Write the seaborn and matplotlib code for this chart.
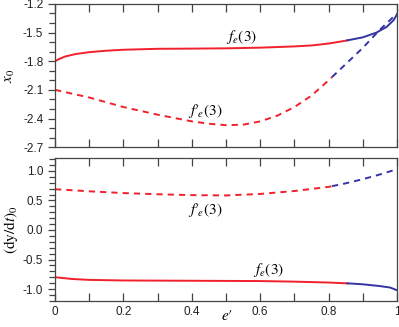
import numpy as np
import pandas as pd
import matplotlib
matplotlib.use('Agg')
import matplotlib.pyplot as plt
from matplotlib.ticker import MultipleLocator, FuncFormatter
import seaborn as sns

# top panel: x0
x0_fe_e = [0.0, 0.01, 0.03, 0.06, 0.1, 0.15, 0.2, 0.3, 0.4, 0.5, 0.6, 0.7, 0.75,
           0.8, 0.85, 0.9, 0.94, 0.97, 0.99, 1.0]
x0_fe_y = [-1.80, -1.78, -1.75, -1.725, -1.705, -1.69, -1.68, -1.67, -1.668, -1.665,
           -1.658, -1.645, -1.635, -1.615, -1.585, -1.55, -1.50, -1.44, -1.37, -1.31]
x0_fp_e = [0.0, 0.1, 0.2, 0.3, 0.4, 0.45, 0.5, 0.55, 0.6, 0.65, 0.7, 0.75, 0.8,
           0.85, 0.9, 0.95, 1.0]
x0_fp_y = [-2.10, -2.18, -2.28, -2.36, -2.43, -2.455, -2.47, -2.465, -2.43, -2.37,
           -2.28, -2.16, -2.00, -1.83, -1.66, -1.47, -1.30]

# bottom panel: (dy/dt)0
v_fp_e = [0.0, 0.1, 0.2, 0.3, 0.4, 0.5, 0.6, 0.7, 0.8, 0.85, 0.9, 0.95, 1.0]
v_fp_y = [0.69, 0.655, 0.625, 0.605, 0.59, 0.585, 0.61, 0.66, 0.73, 0.79, 0.86, 0.94, 1.03]
v_fe_e = [0.0, 0.05, 0.1, 0.2, 0.4, 0.6, 0.7, 0.8, 0.86, 0.9, 0.95, 0.98, 1.0]
v_fe_y = [-0.80, -0.83, -0.845, -0.855, -0.86, -0.865, -0.875, -0.89, -0.905, -0.92,
          -0.95, -0.975, -1.02]

# where the curves change from red to blue
split_fe = 0.855
split_fp = 0.81

RED = '#f2202c'
BLUE = '#3434a4'
GREY = '#444444'

plt.rcParams['font.family'] = ['Liberation Sans', 'DejaVu Sans']
plt.rcParams['mathtext.fontset'] = 'stix'


def two_color_line(ax, e, y, split, dashed):
    df = pd.DataFrame({'e': e, 'y': y})
    ls = (0, (3.2, 2.6)) if dashed else '-'
    red = df[df.e <= split]
    blue = df[df.e >= split]
    # join the two pieces at the split point
    ysplit = np.interp(split, df.e, df.y)
    red = pd.concat([red, pd.DataFrame({'e': [split], 'y': [ysplit]})])
    blue = pd.concat([pd.DataFrame({'e': [split], 'y': [ysplit]}), blue])
    sns.lineplot(data=red, x='e', y='y', color=RED, lw=1.4, linestyle=ls,
                 sort=False, estimator=None, ax=ax)
    sns.lineplot(data=blue, x='e', y='y', color=BLUE, lw=1.4, linestyle=ls,
                 sort=False, estimator=None, ax=ax)


def style_axes(ax):
    for s in ax.spines.values():
        s.set_color(GREY)
        s.set_linewidth(0.9)
    ax.set_xlim(0, 1)
    ax.xaxis.set_major_locator(MultipleLocator(0.2))
    ax.xaxis.set_minor_locator(MultipleLocator(0.1))
    ax.tick_params(axis='x', which='both', direction='in', top=True, bottom=True,
                   length=6, width=0.9, color=GREY, labelsize=8.5, labelcolor='#222222')
    ax.tick_params(axis='y', which='major', direction='out', length=5, width=0.9,
                   color=GREY, labelsize=8.5, labelcolor='#222222')
    ax.tick_params(axis='y', which='minor', direction='out', length=4, width=0.9,
                   color=GREY)
    ax.set_xlabel('')
    ax.set_ylabel('')


fig = plt.figure(figsize=(3.99, 3.27), dpi=100)
ax1 = fig.add_axes([0.138, 0.550, 0.857, 0.438])
ax2 = fig.add_axes([0.138, 0.080, 0.857, 0.437])

two_color_line(ax1, x0_fe_e, x0_fe_y, split_fe, False)
two_color_line(ax1, x0_fp_e, x0_fp_y, split_fp, True)
two_color_line(ax2, v_fp_e, v_fp_y, split_fp, True)
two_color_line(ax2, v_fe_e, v_fe_y, split_fe, False)

style_axes(ax1)
style_axes(ax2)

ax1.set_ylim(-2.7, -1.2)
ax1.yaxis.set_major_locator(MultipleLocator(0.3))
ax1.yaxis.set_minor_locator(MultipleLocator(0.1))
ax1.yaxis.set_major_formatter(FuncFormatter(lambda v, p: f'{v:.1f}'))
ax1.tick_params(axis='x', labelbottom=False)

ax2.set_ylim(-1.2, 1.22)
ax2.yaxis.set_major_locator(MultipleLocator(0.5))
ax2.yaxis.set_minor_locator(MultipleLocator(0.1))
ax2.yaxis.set_major_formatter(FuncFormatter(lambda v, p: f'{v:.1f}'))
ax2.xaxis.set_major_formatter(FuncFormatter(lambda v, p: f'{v:g}'))

ax1.set_ylabel(r'$x_0$', fontsize=11, labelpad=4)
ax2.set_ylabel(r'$(\mathrm{dy/d}t)_0$', fontsize=11, labelpad=2)
ax2.set_xlabel(r"$e\prime$", fontsize=11)
ax2.xaxis.set_label_coords(0.503, -0.06)

fp_label = r"$f\prime_{\!e}(3)$"
ax1.text(0.545, -1.55, r'$f_e(3)$', fontsize=11, ha='center', va='center')
ax1.text(0.44, -2.32, fp_label, fontsize=11, ha='center', va='center')
ax2.text(0.44, 0.34, fp_label, fontsize=11, ha='center', va='center')
ax2.text(0.625, -0.68, r'$f_e(3)$', fontsize=11, ha='center', va='center')

fig.savefig('out.png', dpi=100)
